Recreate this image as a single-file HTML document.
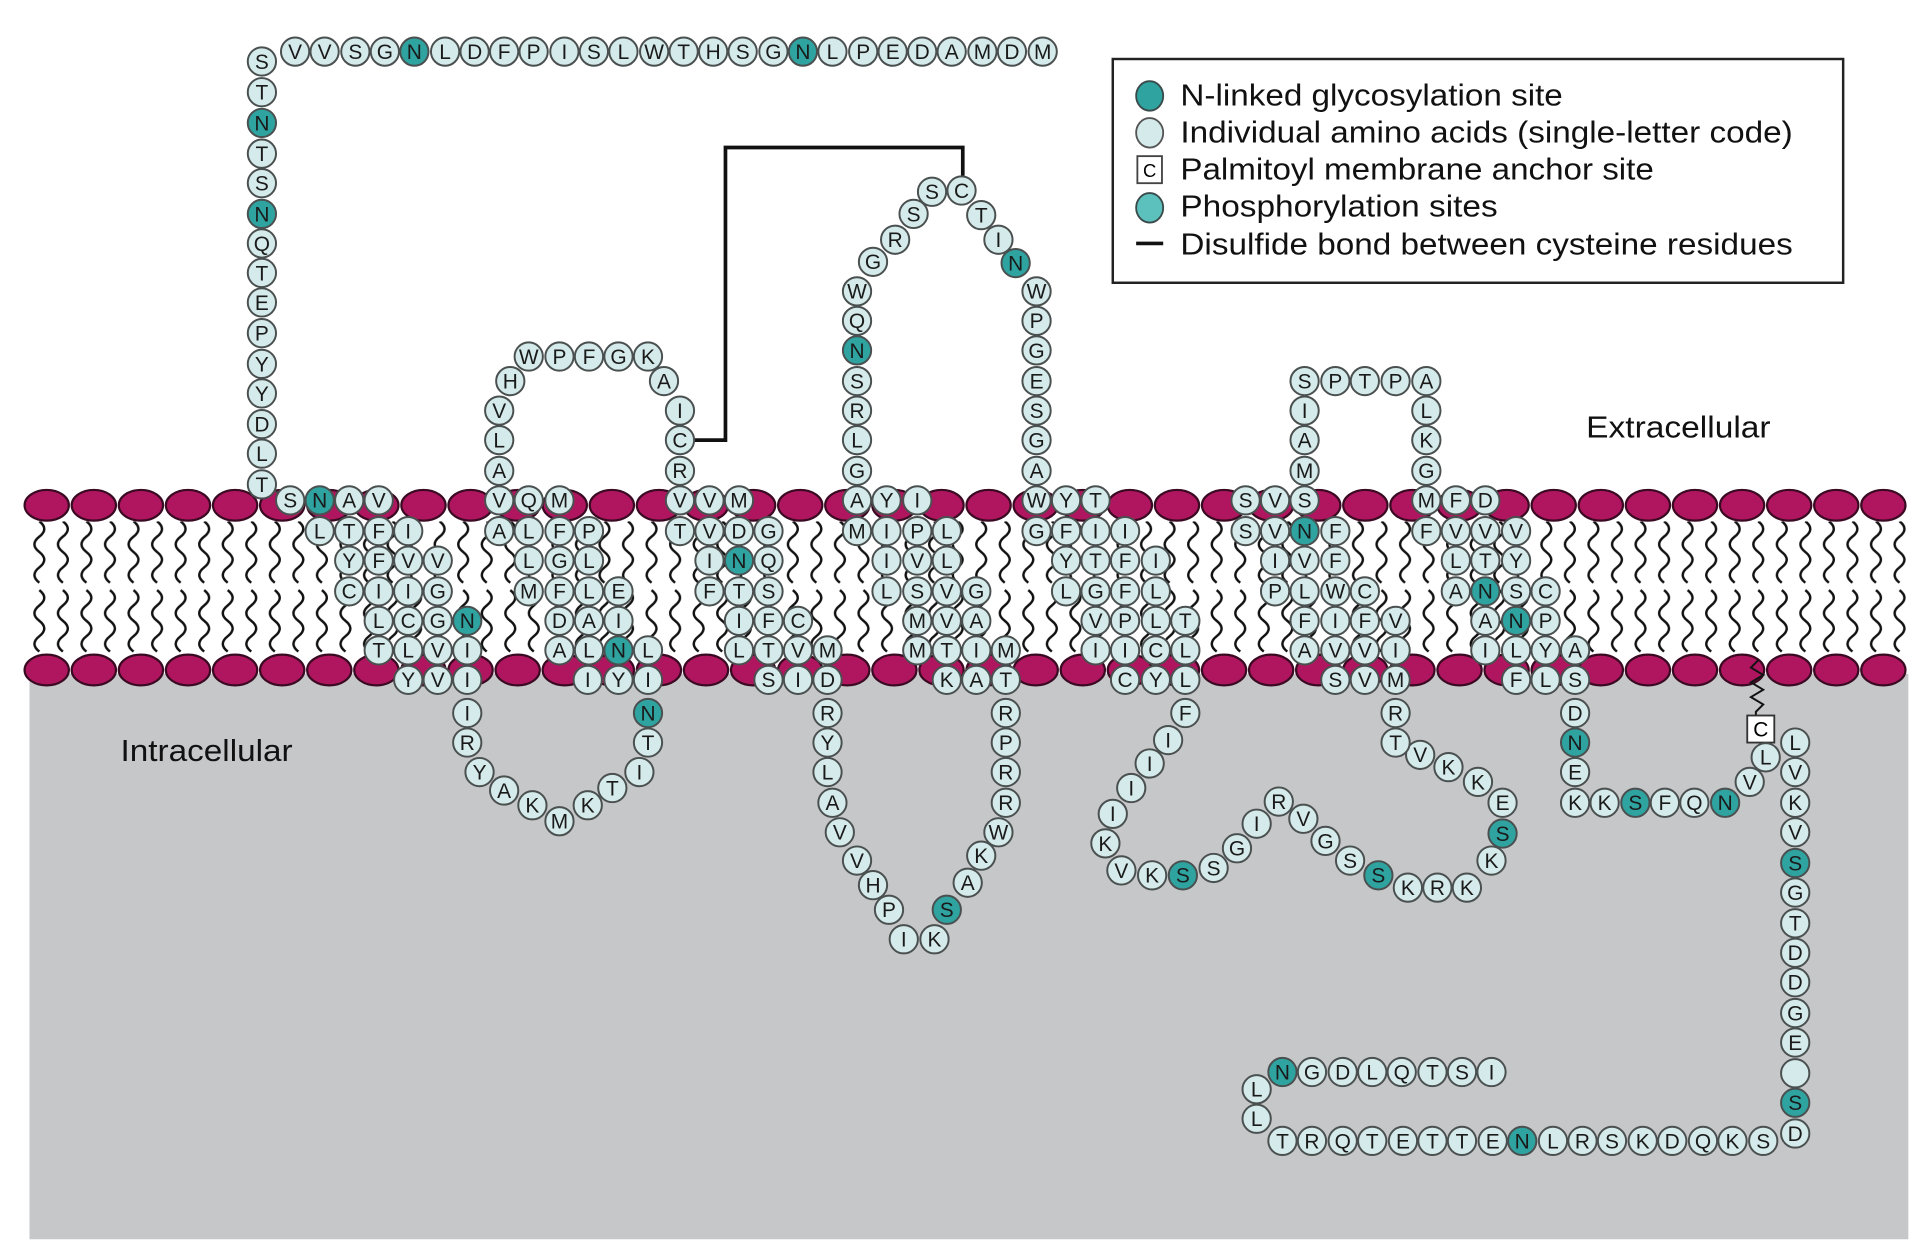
<!DOCTYPE html>
<html><head><meta charset="utf-8"><style>
html,body{margin:0;padding:0;background:#fff}
svg{display:block}
.r circle{fill:#d5eaea;stroke:#4a4f4f;stroke-width:1.6}
.r circle.t{fill:#2ea3a0}
.r text{font-family:"Liberation Sans",sans-serif;font-size:17px;text-anchor:middle;fill:#1a1a1a}
.lg{font-family:"Liberation Sans",sans-serif;font-size:25px;fill:#111}
</style></head><body>
<svg width="1928" height="1254" viewBox="0 0 1568 1020" preserveAspectRatio="none" xmlns="http://www.w3.org/2000/svg">
<defs>
<pattern id="tl" patternUnits="userSpaceOnUse" x="25" y="424" width="19.15" height="110">
<path d="M7 0 q8 6.25 0 12.5 t0 12.5 t0 12.5 t0 12.5 M7 56 q8 6.25 0 12.5 t0 12.5 t0 12.5 t0 12.5" fill="none" stroke="#111" stroke-width="2"/>
</pattern>
</defs>
<rect x="0" y="0" width="1568" height="1020" fill="#fff"/>
<rect x="24" y="548" width="1528" height="460" fill="#c6c7c9"/>
<rect x="22" y="424" width="1533" height="110" fill="url(#tl)"/>
<g fill="#b0165f" stroke="#3a0a22" stroke-width="1.8">
<g id="hr">
<ellipse cx="38" cy="411" rx="18" ry="12.5"/><ellipse cx="76.3" cy="411" rx="18" ry="12.5"/><ellipse cx="114.6" cy="411" rx="18" ry="12.5"/><ellipse cx="152.9" cy="411" rx="18" ry="12.5"/><ellipse cx="191.2" cy="411" rx="18" ry="12.5"/><ellipse cx="229.5" cy="411" rx="18" ry="12.5"/><ellipse cx="267.8" cy="411" rx="18" ry="12.5"/><ellipse cx="306.1" cy="411" rx="18" ry="12.5"/><ellipse cx="344.4" cy="411" rx="18" ry="12.5"/><ellipse cx="382.7" cy="411" rx="18" ry="12.5"/><ellipse cx="421" cy="411" rx="18" ry="12.5"/><ellipse cx="459.3" cy="411" rx="18" ry="12.5"/><ellipse cx="497.6" cy="411" rx="18" ry="12.5"/><ellipse cx="535.9" cy="411" rx="18" ry="12.5"/><ellipse cx="574.2" cy="411" rx="18" ry="12.5"/><ellipse cx="612.5" cy="411" rx="18" ry="12.5"/><ellipse cx="650.8" cy="411" rx="18" ry="12.5"/><ellipse cx="689.1" cy="411" rx="18" ry="12.5"/><ellipse cx="727.4" cy="411" rx="18" ry="12.5"/><ellipse cx="765.7" cy="411" rx="18" ry="12.5"/><ellipse cx="804" cy="411" rx="18" ry="12.5"/><ellipse cx="842.3" cy="411" rx="18" ry="12.5"/><ellipse cx="880.6" cy="411" rx="18" ry="12.5"/><ellipse cx="918.9" cy="411" rx="18" ry="12.5"/><ellipse cx="957.2" cy="411" rx="18" ry="12.5"/><ellipse cx="995.5" cy="411" rx="18" ry="12.5"/><ellipse cx="1033.8" cy="411" rx="18" ry="12.5"/><ellipse cx="1072.1" cy="411" rx="18" ry="12.5"/><ellipse cx="1110.4" cy="411" rx="18" ry="12.5"/><ellipse cx="1148.7" cy="411" rx="18" ry="12.5"/><ellipse cx="1187" cy="411" rx="18" ry="12.5"/><ellipse cx="1225.3" cy="411" rx="18" ry="12.5"/><ellipse cx="1263.6" cy="411" rx="18" ry="12.5"/><ellipse cx="1301.9" cy="411" rx="18" ry="12.5"/><ellipse cx="1340.2" cy="411" rx="18" ry="12.5"/><ellipse cx="1378.5" cy="411" rx="18" ry="12.5"/><ellipse cx="1416.8" cy="411" rx="18" ry="12.5"/><ellipse cx="1455.1" cy="411" rx="18" ry="12.5"/><ellipse cx="1493.4" cy="411" rx="18" ry="12.5"/><ellipse cx="1531.7" cy="411" rx="18" ry="12.5"/>
</g>
<use href="#hr" y="134"/>
</g>
<path d="M565 358 H590 V120 H783 V143" fill="none" stroke="#111" stroke-width="3"/>
<path d="M215 394 L236 407" stroke="#444" stroke-width="1.5"/>
<path d="M1430 537 l-6 6 l10 6 l-10 6 l10 6 l-10 6 l10 6 l-6 6 V582" fill="none" stroke="#111" stroke-width="1.6"/>
<rect x="1421" y="582" width="22" height="22" fill="#fff" stroke="#333" stroke-width="1.5"/>
<text x="1432" y="599" font-family="Liberation Sans,sans-serif" font-size="17" text-anchor="middle">C</text>
<g class="r">
<circle cx="213" cy="50" r="11.5"/><text x="213" y="56">S</text>
<circle cx="240" cy="42" r="11.5"/><text x="240" y="48">V</text>
<circle cx="264" cy="42" r="11.5"/><text x="264" y="48">V</text>
<circle cx="289" cy="42" r="11.5"/><text x="289" y="48">S</text>
<circle cx="313" cy="42" r="11.5"/><text x="313" y="48">G</text>
<circle cx="337" cy="42" r="11.5" class="t"/><text x="337" y="48">N</text>
<circle cx="362" cy="42" r="11.5"/><text x="362" y="48">L</text>
<circle cx="386" cy="42" r="11.5"/><text x="386" y="48">D</text>
<circle cx="410" cy="42" r="11.5"/><text x="410" y="48">F</text>
<circle cx="434" cy="42" r="11.5"/><text x="434" y="48">P</text>
<circle cx="459" cy="42" r="11.5"/><text x="459" y="48">I</text>
<circle cx="483" cy="42" r="11.5"/><text x="483" y="48">S</text>
<circle cx="507" cy="42" r="11.5"/><text x="507" y="48">L</text>
<circle cx="532" cy="42" r="11.5"/><text x="532" y="48">W</text>
<circle cx="556" cy="42" r="11.5"/><text x="556" y="48">T</text>
<circle cx="580" cy="42" r="11.5"/><text x="580" y="48">H</text>
<circle cx="604" cy="42" r="11.5"/><text x="604" y="48">S</text>
<circle cx="629" cy="42" r="11.5"/><text x="629" y="48">G</text>
<circle cx="653" cy="42" r="11.5" class="t"/><text x="653" y="48">N</text>
<circle cx="677" cy="42" r="11.5"/><text x="677" y="48">L</text>
<circle cx="702" cy="42" r="11.5"/><text x="702" y="48">P</text>
<circle cx="726" cy="42" r="11.5"/><text x="726" y="48">E</text>
<circle cx="750" cy="42" r="11.5"/><text x="750" y="48">D</text>
<circle cx="774" cy="42" r="11.5"/><text x="774" y="48">A</text>
<circle cx="799" cy="42" r="11.5"/><text x="799" y="48">M</text>
<circle cx="823" cy="42" r="11.5"/><text x="823" y="48">D</text>
<circle cx="848" cy="42" r="11.5"/><text x="848" y="48">M</text>
<circle cx="213" cy="75" r="11.5"/><text x="213" y="81">T</text>
<circle cx="213" cy="100" r="11.5" class="t"/><text x="213" y="106">N</text>
<circle cx="213" cy="125" r="11.5"/><text x="213" y="131">T</text>
<circle cx="213" cy="149" r="11.5"/><text x="213" y="155">S</text>
<circle cx="213" cy="174" r="11.5" class="t"/><text x="213" y="180">N</text>
<circle cx="213" cy="198" r="11.5"/><text x="213" y="204">Q</text>
<circle cx="213" cy="222" r="11.5"/><text x="213" y="228">T</text>
<circle cx="213" cy="246" r="11.5"/><text x="213" y="252">E</text>
<circle cx="213" cy="271" r="11.5"/><text x="213" y="277">P</text>
<circle cx="213" cy="296" r="11.5"/><text x="213" y="302">Y</text>
<circle cx="213" cy="320" r="11.5"/><text x="213" y="326">Y</text>
<circle cx="213" cy="345" r="11.5"/><text x="213" y="351">D</text>
<circle cx="213" cy="369" r="11.5"/><text x="213" y="375">L</text>
<circle cx="213" cy="394" r="11.5"/><text x="213" y="400">T</text>
<circle cx="236" cy="407" r="11.5"/><text x="236" y="413">S</text>
<circle cx="260" cy="407" r="11.5" class="t"/><text x="260" y="413">N</text>
<circle cx="284" cy="407" r="11.5"/><text x="284" y="413">A</text>
<circle cx="308" cy="407" r="11.5"/><text x="308" y="413">V</text>
<circle cx="260" cy="432" r="11.5"/><text x="260" y="438">L</text>
<circle cx="284" cy="432" r="11.5"/><text x="284" y="438">T</text>
<circle cx="308" cy="432" r="11.5"/><text x="308" y="438">F</text>
<circle cx="332" cy="432" r="11.5"/><text x="332" y="438">I</text>
<circle cx="284" cy="456" r="11.5"/><text x="284" y="462">Y</text>
<circle cx="308" cy="456" r="11.5"/><text x="308" y="462">F</text>
<circle cx="332" cy="456" r="11.5"/><text x="332" y="462">V</text>
<circle cx="356" cy="456" r="11.5"/><text x="356" y="462">V</text>
<circle cx="284" cy="481" r="11.5"/><text x="284" y="487">C</text>
<circle cx="308" cy="481" r="11.5"/><text x="308" y="487">I</text>
<circle cx="332" cy="481" r="11.5"/><text x="332" y="487">I</text>
<circle cx="356" cy="481" r="11.5"/><text x="356" y="487">G</text>
<circle cx="308" cy="505" r="11.5"/><text x="308" y="511">L</text>
<circle cx="332" cy="505" r="11.5"/><text x="332" y="511">C</text>
<circle cx="356" cy="505" r="11.5"/><text x="356" y="511">G</text>
<circle cx="380" cy="505" r="11.5" class="t"/><text x="380" y="511">N</text>
<circle cx="308" cy="529" r="11.5"/><text x="308" y="535">T</text>
<circle cx="332" cy="529" r="11.5"/><text x="332" y="535">L</text>
<circle cx="356" cy="529" r="11.5"/><text x="356" y="535">V</text>
<circle cx="380" cy="529" r="11.5"/><text x="380" y="535">I</text>
<circle cx="332" cy="553" r="11.5"/><text x="332" y="559">Y</text>
<circle cx="356" cy="553" r="11.5"/><text x="356" y="559">V</text>
<circle cx="380" cy="553" r="11.5"/><text x="380" y="559">I</text>
<circle cx="380" cy="580" r="11.5"/><text x="380" y="586">I</text>
<circle cx="380" cy="604" r="11.5"/><text x="380" y="610">R</text>
<circle cx="390" cy="628" r="11.5"/><text x="390" y="634">Y</text>
<circle cx="410" cy="643" r="11.5"/><text x="410" y="649">A</text>
<circle cx="433" cy="655" r="11.5"/><text x="433" y="661">K</text>
<circle cx="455" cy="668" r="11.5"/><text x="455" y="674">M</text>
<circle cx="478" cy="655" r="11.5"/><text x="478" y="661">K</text>
<circle cx="498" cy="641" r="11.5"/><text x="498" y="647">T</text>
<circle cx="520" cy="628" r="11.5"/><text x="520" y="634">I</text>
<circle cx="527" cy="604" r="11.5"/><text x="527" y="610">T</text>
<circle cx="527" cy="580" r="11.5" class="t"/><text x="527" y="586">N</text>
<circle cx="478" cy="553" r="11.5"/><text x="478" y="559">I</text>
<circle cx="503" cy="553" r="11.5"/><text x="503" y="559">Y</text>
<circle cx="527" cy="553" r="11.5"/><text x="527" y="559">I</text>
<circle cx="455" cy="529" r="11.5"/><text x="455" y="535">A</text>
<circle cx="479" cy="529" r="11.5"/><text x="479" y="535">L</text>
<circle cx="503" cy="529" r="11.5" class="t"/><text x="503" y="535">N</text>
<circle cx="527" cy="529" r="11.5"/><text x="527" y="535">L</text>
<circle cx="455" cy="505" r="11.5"/><text x="455" y="511">D</text>
<circle cx="479" cy="505" r="11.5"/><text x="479" y="511">A</text>
<circle cx="503" cy="505" r="11.5"/><text x="503" y="511">I</text>
<circle cx="430" cy="481" r="11.5"/><text x="430" y="487">M</text>
<circle cx="455" cy="481" r="11.5"/><text x="455" y="487">F</text>
<circle cx="479" cy="481" r="11.5"/><text x="479" y="487">L</text>
<circle cx="503" cy="481" r="11.5"/><text x="503" y="487">E</text>
<circle cx="430" cy="456" r="11.5"/><text x="430" y="462">L</text>
<circle cx="455" cy="456" r="11.5"/><text x="455" y="462">G</text>
<circle cx="479" cy="456" r="11.5"/><text x="479" y="462">L</text>
<circle cx="406" cy="432" r="11.5"/><text x="406" y="438">A</text>
<circle cx="430" cy="432" r="11.5"/><text x="430" y="438">L</text>
<circle cx="455" cy="432" r="11.5"/><text x="455" y="438">F</text>
<circle cx="479" cy="432" r="11.5"/><text x="479" y="438">P</text>
<circle cx="406" cy="407" r="11.5"/><text x="406" y="413">V</text>
<circle cx="430" cy="407" r="11.5"/><text x="430" y="413">Q</text>
<circle cx="455" cy="407" r="11.5"/><text x="455" y="413">M</text>
<circle cx="406" cy="383" r="11.5"/><text x="406" y="389">A</text>
<circle cx="406" cy="358" r="11.5"/><text x="406" y="364">L</text>
<circle cx="406" cy="334" r="11.5"/><text x="406" y="340">V</text>
<circle cx="415" cy="310" r="11.5"/><text x="415" y="316">H</text>
<circle cx="430" cy="290" r="11.5"/><text x="430" y="296">W</text>
<circle cx="455" cy="290" r="11.5"/><text x="455" y="296">P</text>
<circle cx="479" cy="290" r="11.5"/><text x="479" y="296">F</text>
<circle cx="503" cy="290" r="11.5"/><text x="503" y="296">G</text>
<circle cx="527" cy="290" r="11.5"/><text x="527" y="296">K</text>
<circle cx="540" cy="310" r="11.5"/><text x="540" y="316">A</text>
<circle cx="553" cy="334" r="11.5"/><text x="553" y="340">I</text>
<circle cx="553" cy="358" r="11.5"/><text x="553" y="364">C</text>
<circle cx="553" cy="383" r="11.5"/><text x="553" y="389">R</text>
<circle cx="553" cy="407" r="11.5"/><text x="553" y="413">V</text>
<circle cx="577" cy="407" r="11.5"/><text x="577" y="413">V</text>
<circle cx="601" cy="407" r="11.5"/><text x="601" y="413">M</text>
<circle cx="553" cy="432" r="11.5"/><text x="553" y="438">T</text>
<circle cx="577" cy="432" r="11.5"/><text x="577" y="438">V</text>
<circle cx="601" cy="432" r="11.5"/><text x="601" y="438">D</text>
<circle cx="625" cy="432" r="11.5"/><text x="625" y="438">G</text>
<circle cx="577" cy="456" r="11.5"/><text x="577" y="462">I</text>
<circle cx="601" cy="456" r="11.5" class="t"/><text x="601" y="462">N</text>
<circle cx="625" cy="456" r="11.5"/><text x="625" y="462">Q</text>
<circle cx="577" cy="481" r="11.5"/><text x="577" y="487">F</text>
<circle cx="601" cy="481" r="11.5"/><text x="601" y="487">T</text>
<circle cx="625" cy="481" r="11.5"/><text x="625" y="487">S</text>
<circle cx="601" cy="505" r="11.5"/><text x="601" y="511">I</text>
<circle cx="625" cy="505" r="11.5"/><text x="625" y="511">F</text>
<circle cx="649" cy="505" r="11.5"/><text x="649" y="511">C</text>
<circle cx="601" cy="529" r="11.5"/><text x="601" y="535">L</text>
<circle cx="625" cy="529" r="11.5"/><text x="625" y="535">T</text>
<circle cx="649" cy="529" r="11.5"/><text x="649" y="535">V</text>
<circle cx="673" cy="529" r="11.5"/><text x="673" y="535">M</text>
<circle cx="625" cy="553" r="11.5"/><text x="625" y="559">S</text>
<circle cx="649" cy="553" r="11.5"/><text x="649" y="559">I</text>
<circle cx="673" cy="553" r="11.5"/><text x="673" y="559">D</text>
<circle cx="673" cy="580" r="11.5"/><text x="673" y="586">R</text>
<circle cx="673" cy="604" r="11.5"/><text x="673" y="610">Y</text>
<circle cx="673" cy="628" r="11.5"/><text x="673" y="634">L</text>
<circle cx="677" cy="653" r="11.5"/><text x="677" y="659">A</text>
<circle cx="683" cy="677" r="11.5"/><text x="683" y="683">V</text>
<circle cx="697" cy="700" r="11.5"/><text x="697" y="706">V</text>
<circle cx="710" cy="720" r="11.5"/><text x="710" y="726">H</text>
<circle cx="723" cy="740" r="11.5"/><text x="723" y="746">P</text>
<circle cx="735" cy="764" r="11.5"/><text x="735" y="770">I</text>
<circle cx="760" cy="764" r="11.5"/><text x="760" y="770">K</text>
<circle cx="770" cy="740" r="11.5" class="t"/><text x="770" y="746">S</text>
<circle cx="787" cy="718" r="11.5"/><text x="787" y="724">A</text>
<circle cx="798" cy="696" r="11.5"/><text x="798" y="702">K</text>
<circle cx="812" cy="677" r="11.5"/><text x="812" y="683">W</text>
<circle cx="818" cy="653" r="11.5"/><text x="818" y="659">R</text>
<circle cx="818" cy="628" r="11.5"/><text x="818" y="634">R</text>
<circle cx="818" cy="604" r="11.5"/><text x="818" y="610">P</text>
<circle cx="818" cy="580" r="11.5"/><text x="818" y="586">R</text>
<circle cx="770" cy="553" r="11.5"/><text x="770" y="559">K</text>
<circle cx="794" cy="553" r="11.5"/><text x="794" y="559">A</text>
<circle cx="818" cy="553" r="11.5"/><text x="818" y="559">T</text>
<circle cx="746" cy="529" r="11.5"/><text x="746" y="535">M</text>
<circle cx="770" cy="529" r="11.5"/><text x="770" y="535">T</text>
<circle cx="794" cy="529" r="11.5"/><text x="794" y="535">I</text>
<circle cx="818" cy="529" r="11.5"/><text x="818" y="535">M</text>
<circle cx="746" cy="505" r="11.5"/><text x="746" y="511">M</text>
<circle cx="770" cy="505" r="11.5"/><text x="770" y="511">V</text>
<circle cx="794" cy="505" r="11.5"/><text x="794" y="511">A</text>
<circle cx="721" cy="481" r="11.5"/><text x="721" y="487">L</text>
<circle cx="746" cy="481" r="11.5"/><text x="746" y="487">S</text>
<circle cx="770" cy="481" r="11.5"/><text x="770" y="487">V</text>
<circle cx="794" cy="481" r="11.5"/><text x="794" y="487">G</text>
<circle cx="721" cy="456" r="11.5"/><text x="721" y="462">I</text>
<circle cx="746" cy="456" r="11.5"/><text x="746" y="462">V</text>
<circle cx="770" cy="456" r="11.5"/><text x="770" y="462">L</text>
<circle cx="697" cy="432" r="11.5"/><text x="697" y="438">M</text>
<circle cx="721" cy="432" r="11.5"/><text x="721" y="438">I</text>
<circle cx="746" cy="432" r="11.5"/><text x="746" y="438">P</text>
<circle cx="770" cy="432" r="11.5"/><text x="770" y="438">L</text>
<circle cx="697" cy="407" r="11.5"/><text x="697" y="413">A</text>
<circle cx="721" cy="407" r="11.5"/><text x="721" y="413">Y</text>
<circle cx="746" cy="407" r="11.5"/><text x="746" y="413">I</text>
<circle cx="697" cy="383" r="11.5"/><text x="697" y="389">G</text>
<circle cx="697" cy="358" r="11.5"/><text x="697" y="364">L</text>
<circle cx="697" cy="334" r="11.5"/><text x="697" y="340">R</text>
<circle cx="697" cy="310" r="11.5"/><text x="697" y="316">S</text>
<circle cx="697" cy="285" r="11.5" class="t"/><text x="697" y="291">N</text>
<circle cx="697" cy="261" r="11.5"/><text x="697" y="267">Q</text>
<circle cx="697" cy="237" r="11.5"/><text x="697" y="243">W</text>
<circle cx="710" cy="213" r="11.5"/><text x="710" y="219">G</text>
<circle cx="728" cy="195" r="11.5"/><text x="728" y="201">R</text>
<circle cx="743" cy="174" r="11.5"/><text x="743" y="180">S</text>
<circle cx="758" cy="156" r="11.5"/><text x="758" y="162">S</text>
<circle cx="782" cy="155" r="11.5"/><text x="782" y="161">C</text>
<circle cx="798" cy="175" r="11.5"/><text x="798" y="181">T</text>
<circle cx="812" cy="195" r="11.5"/><text x="812" y="201">I</text>
<circle cx="826" cy="214" r="11.5" class="t"/><text x="826" y="220">N</text>
<circle cx="843" cy="237" r="11.5"/><text x="843" y="243">W</text>
<circle cx="843" cy="261" r="11.5"/><text x="843" y="267">P</text>
<circle cx="843" cy="285" r="11.5"/><text x="843" y="291">G</text>
<circle cx="843" cy="310" r="11.5"/><text x="843" y="316">E</text>
<circle cx="843" cy="334" r="11.5"/><text x="843" y="340">S</text>
<circle cx="843" cy="358" r="11.5"/><text x="843" y="364">G</text>
<circle cx="843" cy="383" r="11.5"/><text x="843" y="389">A</text>
<circle cx="843" cy="407" r="11.5"/><text x="843" y="413">W</text>
<circle cx="867" cy="407" r="11.5"/><text x="867" y="413">Y</text>
<circle cx="891" cy="407" r="11.5"/><text x="891" y="413">T</text>
<circle cx="843" cy="432" r="11.5"/><text x="843" y="438">G</text>
<circle cx="867" cy="432" r="11.5"/><text x="867" y="438">F</text>
<circle cx="891" cy="432" r="11.5"/><text x="891" y="438">I</text>
<circle cx="915" cy="432" r="11.5"/><text x="915" y="438">I</text>
<circle cx="867" cy="456" r="11.5"/><text x="867" y="462">Y</text>
<circle cx="891" cy="456" r="11.5"/><text x="891" y="462">T</text>
<circle cx="915" cy="456" r="11.5"/><text x="915" y="462">F</text>
<circle cx="940" cy="456" r="11.5"/><text x="940" y="462">I</text>
<circle cx="867" cy="481" r="11.5"/><text x="867" y="487">L</text>
<circle cx="891" cy="481" r="11.5"/><text x="891" y="487">G</text>
<circle cx="915" cy="481" r="11.5"/><text x="915" y="487">F</text>
<circle cx="940" cy="481" r="11.5"/><text x="940" y="487">L</text>
<circle cx="891" cy="505" r="11.5"/><text x="891" y="511">V</text>
<circle cx="915" cy="505" r="11.5"/><text x="915" y="511">P</text>
<circle cx="940" cy="505" r="11.5"/><text x="940" y="511">L</text>
<circle cx="964" cy="505" r="11.5"/><text x="964" y="511">T</text>
<circle cx="891" cy="529" r="11.5"/><text x="891" y="535">I</text>
<circle cx="915" cy="529" r="11.5"/><text x="915" y="535">I</text>
<circle cx="940" cy="529" r="11.5"/><text x="940" y="535">C</text>
<circle cx="964" cy="529" r="11.5"/><text x="964" y="535">L</text>
<circle cx="915" cy="553" r="11.5"/><text x="915" y="559">C</text>
<circle cx="940" cy="553" r="11.5"/><text x="940" y="559">Y</text>
<circle cx="964" cy="553" r="11.5"/><text x="964" y="559">L</text>
<circle cx="964" cy="580" r="11.5"/><text x="964" y="586">F</text>
<circle cx="950" cy="602" r="11.5"/><text x="950" y="608">I</text>
<circle cx="935" cy="621" r="11.5"/><text x="935" y="627">I</text>
<circle cx="920" cy="641" r="11.5"/><text x="920" y="647">I</text>
<circle cx="905" cy="662" r="11.5"/><text x="905" y="668">I</text>
<circle cx="899" cy="686" r="11.5"/><text x="899" y="692">K</text>
<circle cx="912" cy="708" r="11.5"/><text x="912" y="714">V</text>
<circle cx="937" cy="712" r="11.5"/><text x="937" y="718">K</text>
<circle cx="962" cy="712" r="11.5" class="t"/><text x="962" y="718">S</text>
<circle cx="987" cy="706" r="11.5"/><text x="987" y="712">S</text>
<circle cx="1006" cy="690" r="11.5"/><text x="1006" y="696">G</text>
<circle cx="1022" cy="670" r="11.5"/><text x="1022" y="676">I</text>
<circle cx="1040" cy="652" r="11.5"/><text x="1040" y="658">R</text>
<circle cx="1060" cy="666" r="11.5"/><text x="1060" y="672">V</text>
<circle cx="1078" cy="684" r="11.5"/><text x="1078" y="690">G</text>
<circle cx="1098" cy="700" r="11.5"/><text x="1098" y="706">S</text>
<circle cx="1121" cy="712" r="11.5" class="t"/><text x="1121" y="718">S</text>
<circle cx="1145" cy="722" r="11.5"/><text x="1145" y="728">K</text>
<circle cx="1169" cy="722" r="11.5"/><text x="1169" y="728">R</text>
<circle cx="1193" cy="722" r="11.5"/><text x="1193" y="728">K</text>
<circle cx="1213" cy="700" r="11.5"/><text x="1213" y="706">K</text>
<circle cx="1222" cy="678" r="11.5" class="t"/><text x="1222" y="684">S</text>
<circle cx="1222" cy="653" r="11.5"/><text x="1222" y="659">E</text>
<circle cx="1202" cy="636" r="11.5"/><text x="1202" y="642">K</text>
<circle cx="1178" cy="624" r="11.5"/><text x="1178" y="630">K</text>
<circle cx="1155" cy="614" r="11.5"/><text x="1155" y="620">V</text>
<circle cx="1135" cy="604" r="11.5"/><text x="1135" y="610">T</text>
<circle cx="1135" cy="580" r="11.5"/><text x="1135" y="586">R</text>
<circle cx="1086" cy="553" r="11.5"/><text x="1086" y="559">S</text>
<circle cx="1110" cy="553" r="11.5"/><text x="1110" y="559">V</text>
<circle cx="1135" cy="553" r="11.5"/><text x="1135" y="559">M</text>
<circle cx="1061" cy="529" r="11.5"/><text x="1061" y="535">A</text>
<circle cx="1086" cy="529" r="11.5"/><text x="1086" y="535">V</text>
<circle cx="1110" cy="529" r="11.5"/><text x="1110" y="535">V</text>
<circle cx="1135" cy="529" r="11.5"/><text x="1135" y="535">I</text>
<circle cx="1061" cy="505" r="11.5"/><text x="1061" y="511">F</text>
<circle cx="1086" cy="505" r="11.5"/><text x="1086" y="511">I</text>
<circle cx="1110" cy="505" r="11.5"/><text x="1110" y="511">F</text>
<circle cx="1135" cy="505" r="11.5"/><text x="1135" y="511">V</text>
<circle cx="1037" cy="481" r="11.5"/><text x="1037" y="487">P</text>
<circle cx="1061" cy="481" r="11.5"/><text x="1061" y="487">L</text>
<circle cx="1086" cy="481" r="11.5"/><text x="1086" y="487">W</text>
<circle cx="1110" cy="481" r="11.5"/><text x="1110" y="487">C</text>
<circle cx="1037" cy="456" r="11.5"/><text x="1037" y="462">I</text>
<circle cx="1061" cy="456" r="11.5"/><text x="1061" y="462">V</text>
<circle cx="1086" cy="456" r="11.5"/><text x="1086" y="462">F</text>
<circle cx="1013" cy="432" r="11.5"/><text x="1013" y="438">S</text>
<circle cx="1037" cy="432" r="11.5"/><text x="1037" y="438">V</text>
<circle cx="1061" cy="432" r="11.5" class="t"/><text x="1061" y="438">N</text>
<circle cx="1086" cy="432" r="11.5"/><text x="1086" y="438">F</text>
<circle cx="1013" cy="407" r="11.5"/><text x="1013" y="413">S</text>
<circle cx="1037" cy="407" r="11.5"/><text x="1037" y="413">V</text>
<circle cx="1061" cy="407" r="11.5"/><text x="1061" y="413">S</text>
<circle cx="1061" cy="383" r="11.5"/><text x="1061" y="389">M</text>
<circle cx="1061" cy="358" r="11.5"/><text x="1061" y="364">A</text>
<circle cx="1061" cy="334" r="11.5"/><text x="1061" y="340">I</text>
<circle cx="1061" cy="310" r="11.5"/><text x="1061" y="316">S</text>
<circle cx="1086" cy="310" r="11.5"/><text x="1086" y="316">P</text>
<circle cx="1110" cy="310" r="11.5"/><text x="1110" y="316">T</text>
<circle cx="1135" cy="310" r="11.5"/><text x="1135" y="316">P</text>
<circle cx="1160" cy="310" r="11.5"/><text x="1160" y="316">A</text>
<circle cx="1160" cy="334" r="11.5"/><text x="1160" y="340">L</text>
<circle cx="1160" cy="358" r="11.5"/><text x="1160" y="364">K</text>
<circle cx="1160" cy="383" r="11.5"/><text x="1160" y="389">G</text>
<circle cx="1160" cy="407" r="11.5"/><text x="1160" y="413">M</text>
<circle cx="1184" cy="407" r="11.5"/><text x="1184" y="413">F</text>
<circle cx="1208" cy="407" r="11.5"/><text x="1208" y="413">D</text>
<circle cx="1160" cy="432" r="11.5"/><text x="1160" y="438">F</text>
<circle cx="1184" cy="432" r="11.5"/><text x="1184" y="438">V</text>
<circle cx="1208" cy="432" r="11.5"/><text x="1208" y="438">V</text>
<circle cx="1233" cy="432" r="11.5"/><text x="1233" y="438">V</text>
<circle cx="1184" cy="456" r="11.5"/><text x="1184" y="462">L</text>
<circle cx="1208" cy="456" r="11.5"/><text x="1208" y="462">T</text>
<circle cx="1233" cy="456" r="11.5"/><text x="1233" y="462">Y</text>
<circle cx="1184" cy="481" r="11.5"/><text x="1184" y="487">A</text>
<circle cx="1208" cy="481" r="11.5" class="t"/><text x="1208" y="487">N</text>
<circle cx="1233" cy="481" r="11.5"/><text x="1233" y="487">S</text>
<circle cx="1257" cy="481" r="11.5"/><text x="1257" y="487">C</text>
<circle cx="1208" cy="505" r="11.5"/><text x="1208" y="511">A</text>
<circle cx="1233" cy="505" r="11.5" class="t"/><text x="1233" y="511">N</text>
<circle cx="1257" cy="505" r="11.5"/><text x="1257" y="511">P</text>
<circle cx="1208" cy="529" r="11.5"/><text x="1208" y="535">I</text>
<circle cx="1233" cy="529" r="11.5"/><text x="1233" y="535">L</text>
<circle cx="1257" cy="529" r="11.5"/><text x="1257" y="535">Y</text>
<circle cx="1281" cy="529" r="11.5"/><text x="1281" y="535">A</text>
<circle cx="1233" cy="553" r="11.5"/><text x="1233" y="559">F</text>
<circle cx="1257" cy="553" r="11.5"/><text x="1257" y="559">L</text>
<circle cx="1281" cy="553" r="11.5"/><text x="1281" y="559">S</text>
<circle cx="1281" cy="580" r="11.5"/><text x="1281" y="586">D</text>
<circle cx="1281" cy="604" r="11.5" class="t"/><text x="1281" y="610">N</text>
<circle cx="1281" cy="628" r="11.5"/><text x="1281" y="634">E</text>
<circle cx="1281" cy="653" r="11.5"/><text x="1281" y="659">K</text>
<circle cx="1305" cy="653" r="11.5"/><text x="1305" y="659">K</text>
<circle cx="1330" cy="653" r="11.5" class="t"/><text x="1330" y="659">S</text>
<circle cx="1354" cy="653" r="11.5"/><text x="1354" y="659">F</text>
<circle cx="1378" cy="653" r="11.5"/><text x="1378" y="659">Q</text>
<circle cx="1403" cy="653" r="11.5" class="t"/><text x="1403" y="659">N</text>
<circle cx="1423" cy="636" r="11.5"/><text x="1423" y="642">V</text>
<circle cx="1436" cy="616" r="11.5"/><text x="1436" y="622">L</text>
<circle cx="1460" cy="604" r="11.5"/><text x="1460" y="610">L</text>
<circle cx="1460" cy="628" r="11.5"/><text x="1460" y="634">V</text>
<circle cx="1460" cy="653" r="11.5"/><text x="1460" y="659">K</text>
<circle cx="1460" cy="677" r="11.5"/><text x="1460" y="683">V</text>
<circle cx="1460" cy="702" r="11.5" class="t"/><text x="1460" y="708">S</text>
<circle cx="1460" cy="726" r="11.5"/><text x="1460" y="732">G</text>
<circle cx="1460" cy="751" r="11.5"/><text x="1460" y="757">T</text>
<circle cx="1460" cy="775" r="11.5"/><text x="1460" y="781">D</text>
<circle cx="1460" cy="799" r="11.5"/><text x="1460" y="805">D</text>
<circle cx="1460" cy="824" r="11.5"/><text x="1460" y="830">G</text>
<circle cx="1460" cy="848" r="11.5"/><text x="1460" y="854">E</text>
<circle cx="1460" cy="873" r="11.5"/>
<circle cx="1460" cy="897" r="11.5" class="t"/><text x="1460" y="903">S</text>
<circle cx="1460" cy="922" r="11.5"/><text x="1460" y="928">D</text>
<circle cx="1043" cy="928" r="11.5"/><text x="1043" y="934">T</text>
<circle cx="1067" cy="928" r="11.5"/><text x="1067" y="934">R</text>
<circle cx="1092" cy="928" r="11.5"/><text x="1092" y="934">Q</text>
<circle cx="1116" cy="928" r="11.5"/><text x="1116" y="934">T</text>
<circle cx="1141" cy="928" r="11.5"/><text x="1141" y="934">E</text>
<circle cx="1165" cy="928" r="11.5"/><text x="1165" y="934">T</text>
<circle cx="1189" cy="928" r="11.5"/><text x="1189" y="934">T</text>
<circle cx="1214" cy="928" r="11.5"/><text x="1214" y="934">E</text>
<circle cx="1238" cy="928" r="11.5" class="t"/><text x="1238" y="934">N</text>
<circle cx="1263" cy="928" r="11.5"/><text x="1263" y="934">L</text>
<circle cx="1287" cy="928" r="11.5"/><text x="1287" y="934">R</text>
<circle cx="1311" cy="928" r="11.5"/><text x="1311" y="934">S</text>
<circle cx="1336" cy="928" r="11.5"/><text x="1336" y="934">K</text>
<circle cx="1360" cy="928" r="11.5"/><text x="1360" y="934">D</text>
<circle cx="1385" cy="928" r="11.5"/><text x="1385" y="934">Q</text>
<circle cx="1409" cy="928" r="11.5"/><text x="1409" y="934">K</text>
<circle cx="1434" cy="928" r="11.5"/><text x="1434" y="934">S</text>
<circle cx="1022" cy="910" r="11.5"/><text x="1022" y="916">L</text>
<circle cx="1022" cy="886" r="11.5"/><text x="1022" y="892">L</text>
<circle cx="1043" cy="872" r="11.5" class="t"/><text x="1043" y="878">N</text>
<circle cx="1067" cy="872" r="11.5"/><text x="1067" y="878">G</text>
<circle cx="1092" cy="872" r="11.5"/><text x="1092" y="878">D</text>
<circle cx="1116" cy="872" r="11.5"/><text x="1116" y="878">L</text>
<circle cx="1140" cy="872" r="11.5"/><text x="1140" y="878">Q</text>
<circle cx="1165" cy="872" r="11.5"/><text x="1165" y="878">T</text>
<circle cx="1189" cy="872" r="11.5"/><text x="1189" y="878">S</text>
<circle cx="1213" cy="872" r="11.5"/><text x="1213" y="878">I</text>
</g>
<text class="lg" x="1290" y="356" textLength="150" lengthAdjust="spacingAndGlyphs">Extracellular</text>
<text class="lg" x="98" y="619" textLength="140" lengthAdjust="spacingAndGlyphs">Intracellular</text>
<rect x="905" y="48" width="594" height="182" fill="#fff" stroke="#222" stroke-width="2"/>
<ellipse cx="935" cy="78" rx="11" ry="12" fill="#2ea3a0" stroke="#3a4a4a" stroke-width="1.5"/>
<ellipse cx="935" cy="108" rx="11" ry="12" fill="#d5eaea" stroke="#555" stroke-width="1.5"/>
<rect x="925" y="127" width="20" height="22" fill="#fff" stroke="#444" stroke-width="1.5"/>
<text x="935" y="144" font-family="Liberation Sans,sans-serif" font-size="15" text-anchor="middle">C</text>
<ellipse cx="935" cy="169" rx="11" ry="12" fill="#5cc0bd" stroke="#3a4a4a" stroke-width="1.5"/>
<line x1="924" y1="198" x2="946" y2="198" stroke="#111" stroke-width="3"/>
<text class="lg" x="960" y="86" textLength="311" lengthAdjust="spacingAndGlyphs">N-linked glycosylation site</text>
<text class="lg" x="960" y="116" textLength="498" lengthAdjust="spacingAndGlyphs">Individual amino acids (single-letter code)</text>
<text class="lg" x="960" y="146" textLength="385" lengthAdjust="spacingAndGlyphs">Palmitoyl membrane anchor site</text>
<text class="lg" x="960" y="176" textLength="258" lengthAdjust="spacingAndGlyphs">Phosphorylation sites</text>
<text class="lg" x="960" y="207" textLength="498" lengthAdjust="spacingAndGlyphs">Disulfide bond between cysteine residues</text>
</svg>
</body></html>
